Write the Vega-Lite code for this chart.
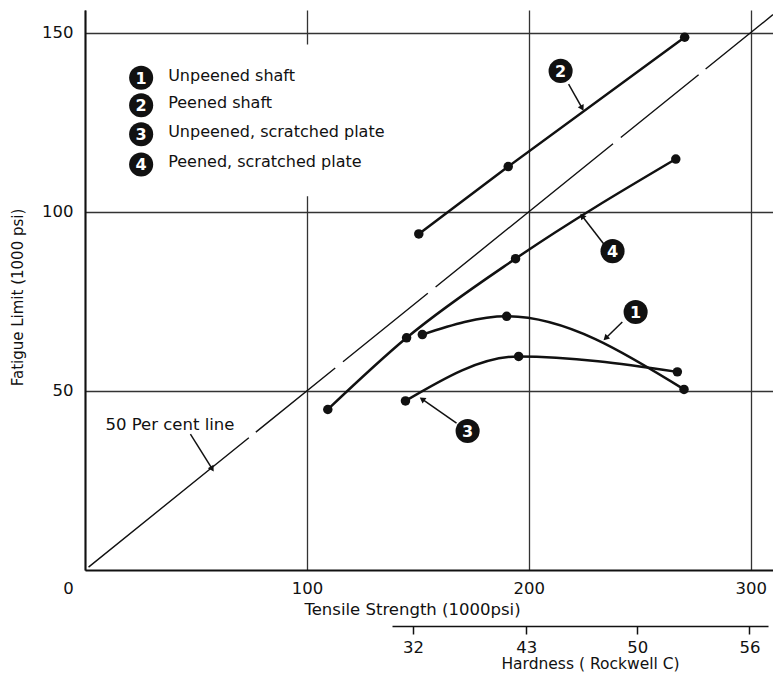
{
  "$schema": "https://vega.github.io/schema/vega-lite/v6.json",
  "width": 688,
  "height": 560,
  "autosize": {"type": "none"},
  "padding": {"left": 85, "top": 10, "right": 0, "bottom": 105},
  "background": "white",
  "config": {
    "font": "DejaVu Sans",
    "view": {"stroke": null},
    "axis": {"labelColor": "#111", "titleColor": "#111", "titleFontWeight": "normal", "domainColor": "#111", "gridColor": "#333", "gridOpacity": 1, "tickColor": "#111"}
  },
  "datasets": {
    "curves": [
      {"series": "1", "x": 152.0, "y": 65.7},
      {"series": "1", "x": 190.0, "y": 70.8},
      {"series": "1", "x": 269.9, "y": 50.4},
      {"series": "2", "x": 150.4, "y": 93.8},
      {"series": "2", "x": 190.7, "y": 112.6},
      {"series": "2", "x": 270.2, "y": 148.7},
      {"series": "3", "x": 144.4, "y": 47.2},
      {"series": "3", "x": 195.4, "y": 59.6},
      {"series": "3", "x": 266.9, "y": 55.3},
      {"series": "4", "x": 109.4, "y": 44.8},
      {"series": "4", "x": 144.9, "y": 64.8},
      {"series": "4", "x": 194.0, "y": 86.9},
      {"series": "4", "x": 266.2, "y": 114.7}
    ],
    "arrows": [
      {"x": 217.9, "y": 135.6, "x2": 224.0, "y2": 128.9},
      {"x": 234.1, "y": 90.7, "x2": 224.0, "y2": 98.8},
      {"x": 242.1, "y": 69.2, "x2": 234.6, "y2": 64.7},
      {"x": 167.4, "y": 41.0, "x2": 151.9, "y2": 47.7},
      {"x": 47.5, "y": 37.9, "x2": 57.3, "y2": 28.2}
    ],
    "callouts": [
      {"num": "1", "x": 248.1, "y": 72.0},
      {"num": "2", "x": 214.3, "y": 139.3},
      {"num": "3", "x": 172.4, "y": 38.8},
      {"num": "4", "x": 237.7, "y": 89.0}
    ],
    "legend": [
      {"num": "1", "label": "Unpeened shaft", "x": 25.3, "y": 137.4},
      {"num": "2", "label": "Peened shaft", "x": 25.3, "y": 129.7},
      {"num": "3", "label": "Unpeened, scratched plate", "x": 25.3, "y": 121.6},
      {"num": "4", "label": "Peened, scratched plate", "x": 25.3, "y": 113.2}
    ]
  },
  "layer": [
    {
      "encoding": {
        "x": {
          "field": "x", "type": "quantitative",
          "scale": {"domain": [0, 310], "nice": false, "zero": false},
          "axis": {
            "values": [0, 100, 200, 300], "grid": true, "gridWidth": 1.3, "ticks": false,
            "domainWidth": 2, "labelFontSize": 16.5, "labelPadding": 10, "labelFlush": false,
            "labelOffset": {"condition": {"test": "datum.value === 0", "value": -17}, "value": 0},
            "title": "Tensile Strength (1000psi)", "titleFontSize": 16.5, "titlePadding": 5, "titleX": 327
          }
        },
        "y": {
          "field": "y", "type": "quantitative",
          "scale": {"domain": [0, 156.3], "nice": false},
          "axis": {
            "values": [50, 100, 150], "grid": true, "gridWidth": 1.3, "ticks": false,
            "domainWidth": 2, "labelFontSize": 16.5, "labelPadding": 12,
            "title": "Fatigue Limit (1000 psi)", "titleFontSize": 15, "titlePadding": 16, "titleY": 287
          }
        }
      },
      "layer": [
        {
          "data": {"values": [{"x": 20, "x2": 135, "y": 104.3, "y2": 146.7}]},
          "mark": {"type": "rect", "fill": "white"},
          "encoding": {"x2": {"field": "x2"}, "y2": {"field": "y2"}}
        },
        {
          "data": {"values": [{"x": 1.6, "y": 0.8}, {"x": 310, "y": 155}]},
          "mark": {"type": "line", "color": "#111", "strokeWidth": 1.4, "strokeDash": [206, 9, 102, 10, 109, 10, 228, 10, 100, 9, 400]}
        },
        {
          "data": {"name": "curves"},
          "transform": [{"filter": "datum.series === '1'"}],
          "mark": {"type": "line", "color": "#111", "strokeWidth": 2.5, "interpolate": "monotone"}
        },
        {
          "data": {"name": "curves"},
          "transform": [{"filter": "datum.series === '2'"}],
          "mark": {"type": "line", "color": "#111", "strokeWidth": 2.5, "interpolate": "linear"}
        },
        {
          "data": {"name": "curves"},
          "transform": [{"filter": "datum.series === '3'"}],
          "mark": {"type": "line", "color": "#111", "strokeWidth": 2.5, "interpolate": "monotone"}
        },
        {
          "data": {"name": "curves"},
          "transform": [{"filter": "datum.series === '4'"}],
          "mark": {"type": "line", "color": "#111", "strokeWidth": 2.5, "interpolate": "monotone"}
        },
        {
          "data": {"name": "curves"},
          "mark": {"type": "point", "filled": true, "color": "#111", "size": 90, "opacity": 1}
        },
        {
          "data": {"name": "arrows"},
          "mark": {"type": "rule", "color": "#111", "strokeWidth": 1.5},
          "encoding": {"x2": {"field": "x2"}, "y2": {"field": "y2"}}
        },
        {
          "data": {"name": "arrows"},
          "transform": [{"calculate": "atan2((datum.x2 - datum.x) * 2.219, (datum.y2 - datum.y) * 3.583) * 180 / PI", "as": "angle"}],
          "mark": {"type": "point", "shape": "triangle-up", "filled": true, "color": "#111", "size": 45, "opacity": 1},
          "encoding": {
            "x": {"field": "x2", "type": "quantitative"},
            "y": {"field": "y2", "type": "quantitative"},
            "angle": {"field": "angle", "type": "quantitative", "scale": null}
          }
        },
        {
          "data": {"name": "callouts"},
          "mark": {"type": "point", "filled": true, "color": "#111", "size": 580, "opacity": 1}
        },
        {
          "data": {"name": "callouts"},
          "mark": {"type": "text", "color": "white", "fontSize": 16, "fontWeight": "bold", "baseline": "middle", "align": "center", "dy": 1},
          "encoding": {"text": {"field": "num"}}
        },
        {
          "data": {"values": [{"x": 38.3, "y": 40.5, "label": "50 Per cent line"}]},
          "mark": {"type": "text", "color": "#111", "fontSize": 16.5, "baseline": "middle", "align": "center"},
          "encoding": {"text": {"field": "label"}}
        },
        {
          "data": {"name": "legend"},
          "mark": {"type": "point", "filled": true, "color": "#111", "size": 580, "opacity": 1}
        },
        {
          "data": {"name": "legend"},
          "mark": {"type": "text", "color": "white", "fontSize": 16, "fontWeight": "bold", "baseline": "middle", "align": "center", "dy": 1},
          "encoding": {"text": {"field": "num"}}
        },
        {
          "data": {"name": "legend"},
          "mark": {"type": "text", "color": "#111", "fontSize": 16, "baseline": "middle", "align": "left", "dx": 27, "dy": -2},
          "encoding": {"text": {"field": "label"}}
        }
      ]
    },
    {
      "data": {"values": [
        {"hardness": 32, "tensile": 148.2},
        {"hardness": 43, "tensile": 199.3},
        {"hardness": 50, "tensile": 249.3},
        {"hardness": 56, "tensile": 299.9}
      ]},
      "mark": {"type": "point", "opacity": 0},
      "encoding": {
        "x": {
          "field": "tensile", "type": "quantitative",
          "scale": {"domain": [138.7, 308.3], "range": [307, 683], "nice": false, "zero": false},
          "axis": {
            "orient": "bottom", "offset": 56, "values": [148.2, 199.3, 249.3, 299.9],
            "labelExpr": "datum.value < 170 ? '32' : datum.value < 225 ? '43' : datum.value < 275 ? '50' : '56'",
            "grid": false, "domainWidth": 1.6, "tickSize": 8, "tickWidth": 1.5,
            "labelFontSize": 16.5, "labelPadding": 5, "labelFlush": false,
            "title": "Hardness ( Rockwell  C)", "titleFontSize": 15.5, "titlePadding": 1, "titleX": 505
          }
        }
      }
    }
  ],
  "resolve": {"scale": {"x": "independent"}, "axis": {"x": "independent"}}
}
